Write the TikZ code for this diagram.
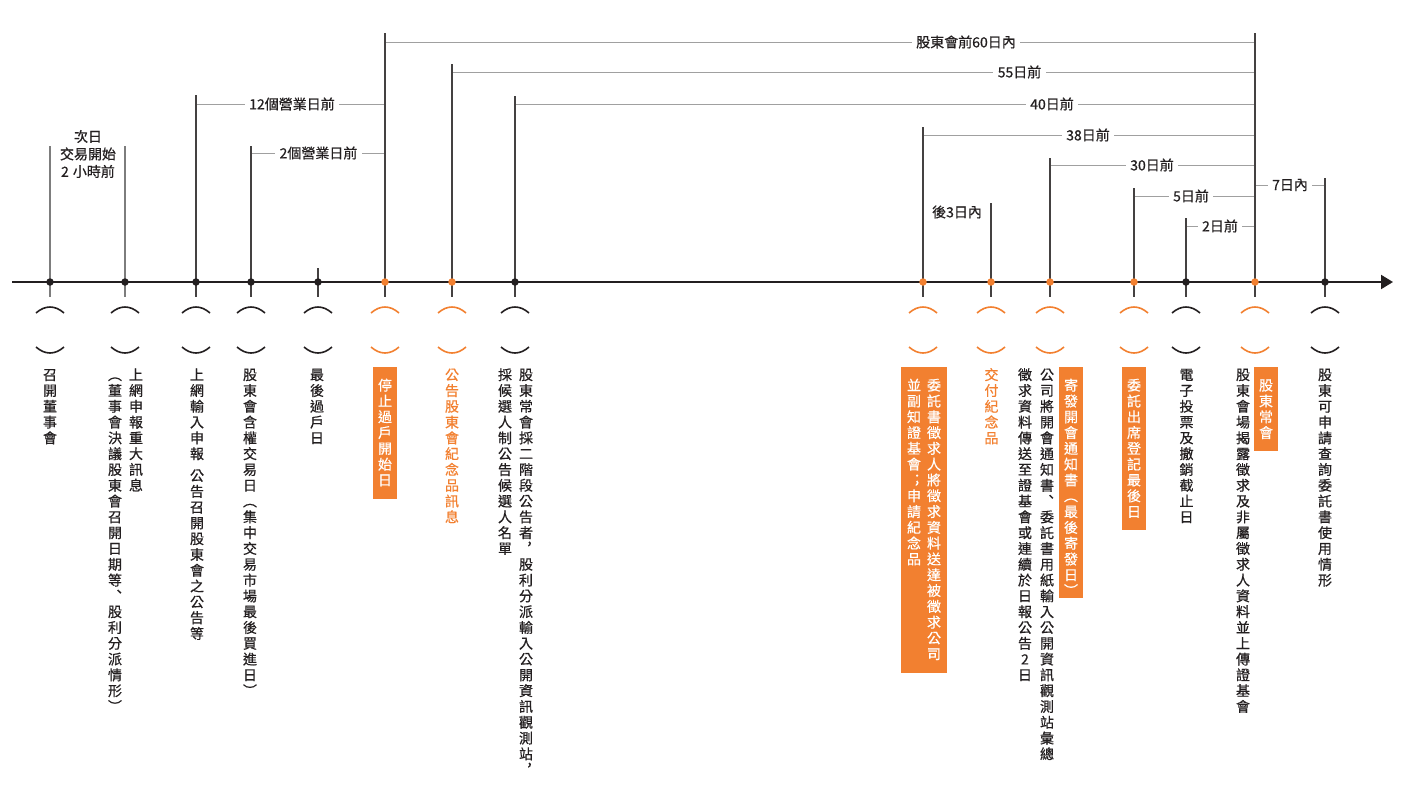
\documentclass[tikz,border=0pt]{standalone}
\usepackage{fontspec}
\setmainfont{Noto Sans CJK TC}[FakeBold=0.6]
\usetikzlibrary{arrows.meta}
\definecolor{ink}{RGB}{35,31,32}
\definecolor{org}{RGB}{242,128,48}
\definecolor{lgray}{RGB}{160,160,160}
\definecolor{mgray}{RGB}{125,125,125}
\newdimen\vcw \vcw=16pt
\newdimen\vch \vch=12.8pt
\newdimen\vcd \vcd=3pt
\def\vstkEnd{-vend-}
\def\vgap{-vgap-}
\def\vstkA#1{\ifx\vstkEnd#1\else\ifx\vgap#1\vskip6pt\else\hbox to\vcw{\hss\vrule height\vch depth\vcd width0pt\relax#1\hss}\fi\expandafter\vstkA\fi}
\newcommand\vstk[2][0pt]{\vtop{\offinterlineskip\vstkA#2\vstkEnd\vskip#1}}
\begin{document}
\begin{tikzpicture}[x=1pt,y=-1pt,
  vt/.style={anchor=north, inner sep=0pt, text=ink, font=\fontsize{14}{16}\selectfont},
  vto/.style={vt, text=org},
  vbox/.style={vt, fill=org, text=white, inner xsep=4pt, inner ysep=10.5pt},
  lbl/.style={fill=white, inner xsep=4.5pt, inner ysep=1pt, text=ink, font=\fontsize{14}{16}\selectfont},
  dotb/.style={circle, fill=ink, inner sep=0pt, minimum size=7.5pt},
  doto/.style={circle, fill=org, inner sep=0pt, minimum size=7.5pt},
  vline/.style={draw=ink!85, line width=1.1pt},
  gline/.style={draw=mgray, line width=1.2pt},
  hline/.style={draw=lgray, line width=0.9pt},
  axisline/.style={draw=ink, line width=2pt},
  arcline/.style={line width=1.6pt},
]
\useasboundingbox (0,0) rectangle (1404,785);

% ---------- horizontal bracket lines ----------
\coordinate (h60a) at (385,42);   \coordinate (h60b) at (1255,42);
\coordinate (h55a) at (452,72);   \coordinate (h55b) at (1255,72);
\coordinate (h40a) at (515,104);  \coordinate (h40b) at (1255,104);
\coordinate (h38a) at (923,135);  \coordinate (h38b) at (1255,135);
\coordinate (h30a) at (1050,165); \coordinate (h30b) at (1255,165);
\coordinate (h5a) at (1134,196);  \coordinate (h5b) at (1255,196);
\coordinate (h2a) at (1186,226);  \coordinate (h2b) at (1255,226);
\coordinate (h7a) at (1255,185);  \coordinate (h7b) at (1325,185);
\coordinate (h12a) at (196,104);  \coordinate (h12b) at (385,104);
\coordinate (h2ba) at (251,153);  \coordinate (h2bb) at (385,153);
\foreach \p in {h60,h55,h40,h38,h30,h5,h2,h7,h12,h2b}{
  \draw[hline] (\p a) -- (\p b);
}

% ---------- axis ----------
\coordinate (axL) at (12,282);
\coordinate (axR) at (1393,282);
\draw[axisline, -{Triangle[length=12pt,width=14pt]}] (axL) -- (axR);

% ---------- vertical ticks ----------
\foreach \n/\x/\t/\s in {A/50/146/gline, B/125/146/gline, C/196/95/vline, D/251/146/vline,
  E/318/268/vline, F/385/33/vline, G/452/64/vline, H/515/96/vline, I/923/127/vline,
  J/991/203/vline, K/1050/158/vline, L/1134/188/vline, M/1186/218/vline,
  N/1255/33/vline, O/1325/178/vline}{
  \coordinate (top\n) at (\x,\t);
  \coordinate (bot\n) at (\x,297);
  \draw[\s] (top\n) -- (bot\n);
}
\foreach \n/\x/\st in {A/50/dotb, B/125/dotb, C/196/dotb, D/251/dotb, E/318/dotb,
  F/385/doto, G/452/doto, H/515/dotb, I/923/doto, J/991/doto, K/1050/doto,
  L/1134/doto, M/1186/dotb, N/1255/doto, O/1325/dotb}{
  \node[\st] (d\n) at (\x,282) {};
}

% ---------- arcs ----------
\foreach \x/\c in {50/ink, 125/ink, 196/ink, 251/ink, 318/ink, 385/org, 452/org, 515/ink,
  923/org, 991/org, 1050/org, 1134/org, 1186/ink, 1255/org, 1325/ink}{
  \draw[arcline, draw=\c] ({\x-14},313) .. controls ({\x-5},305) and ({\x+5},305) .. ({\x+14},313);
  \draw[arcline, draw=\c] ({\x-14},347) .. controls ({\x-5},355) and ({\x+5},355) .. ({\x+14},347);
}

% ---------- top labels ----------
\node[lbl] (l60) at (966,42) {股東會前60日內};
\node[lbl] (l55) at (1019.5,72) {55日前};
\node[lbl] (l40) at (1052,104) {40日前};
\node[lbl] (l38) at (1088,135) {38日前};
\node[lbl] (l30) at (1152,165) {30日前};
\node[lbl] (l5) at (1191,196) {5日前};
\node[lbl] (l2) at (1220,226) {2日前};
\node[lbl] (l7) at (1290,185) {7日內};
\node[lbl] (l12) at (292,104) {12個營業日前};
\node[lbl] (l2b) at (318.5,153) {2個營業日前};
\node[lbl] (l3) at (957,212) {後3日內};
\node[lbl, align=center, font=\fontsize{14}{17.5}\selectfont] (lnext) at (88,154) {次日\\交易開始\\2\hspace{4pt}小時前};

% ---------- vertical texts ----------
\node[vt] (tA) at (50,367) {\vstk{召開董事會}};
\node[vt] (tB) at (125.5,367) {\vstk{︵董事會決議股東會召開日期等︑股利分派情形︶}\hskip5pt\vstk{上網申報重大訊息}};
\node[vt] (tC) at (197,367) {\vstk{上網輸入申報\vgap 公告召開股東會之公告等}};
\node[vt] (tD) at (250,367) {\vstk{股東會含權交易日︵集中交易市場最後買進日︶}};
\node[vt] (tE) at (317,367) {\vstk{最後過戶日}};
\node[vbox] (tF) at (385,367) {\vstk{停止過戶開始日}};
\node[vto] (tG) at (452,367) {\vstk{公告股東會紀念品訊息}};
\node[vt] (tH) at (515.5,367) {\vstk{採候選人制公告候選人名單}\hskip5pt\vstk{股東常會採二階段公告者︐股利分派輸入公開資訊觀測站︐}};
\node[vbox, inner xsep=5pt] (tI) at (924,367) {\vstk{並副知證基會︔申請紀念品}\hskip4pt\vstk{委託書徵求人將徵求資料送達被徵求公司}};
\node[vto] (tJ) at (991.5,367) {\vstk{交付紀念品}};
\node[vt] (tK) at (1036,367) {\vstk{徵求資料傳送至證基會或連續於日報公告2日}\hskip6pt\vstk{公司將開會通知書︑委託書用紙輸入公開資訊觀測站彙總}};
\node[vbox] (tK2) at (1071,367) {\vstk[-11pt]{寄發開會通知書︵最後寄發日︶}};
\node[vbox] (tL) at (1134,367) {\vstk{委託出席登記最後日}};
\node[vt] (tM) at (1186.5,367) {\vstk{電子投票及撤銷截止日}};
\node[vt] (tN) at (1243,367) {\vstk{股東會場揭露徵求及非屬徵求人資料並上傳證基會}};
\node[vbox] (tN2) at (1266,367) {\vstk{股東常會}};
\node[vt] (tO) at (1325,367) {\vstk{股東可申請查詢委託書使用情形}};
\end{tikzpicture}
\end{document}
